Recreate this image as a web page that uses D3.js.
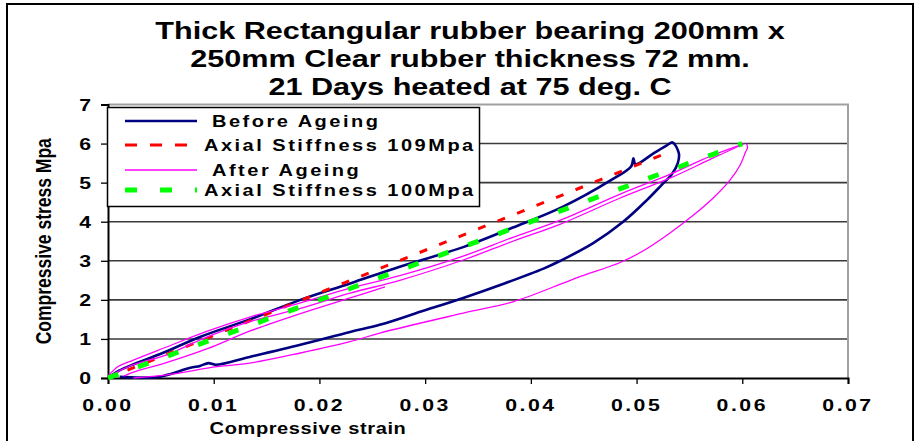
<!DOCTYPE html>
<html>
<head>
<meta charset="utf-8">
<script src="https://cdn.jsdelivr.net/npm/d3@7"></script>
<style>
  body { margin: 0; background: #fff; }
  text { font-family: "Liberation Sans", Arial, sans-serif; font-weight: bold; fill: #000; }
</style>
</head>
<body>
<div id="chart"></div>
<script>
// chart text
var titleLines = ["Thick Rectangular rubber bearing 200mm x",
                  "250mm Clear rubber thickness 72 mm.",
                  "21 Days heated at 75 deg. C"];
var xTicks = [0, 0.01, 0.02, 0.03, 0.04, 0.05, 0.06, 0.07];
var yTicks = [0, 1, 2, 3, 4, 5, 6, 7];
var seriesNames = ["Before Ageing", "Axial Stiffness 109Mpa", "After Ageing", "Axial Stiffness 100Mpa"];

// before ageing: loading then unloading loop
var beforeStrain = [0, 0.001, 0.0025, 0.005, 0.0087, 0.0134, 0.0182, 0.0229, 0.0276, 0.0336, 0.0383, 0.043, 0.0475,
                    0.0495, 0.0497, 0.0499, 0.0516, 0.0529, 0.0534, 0.054, 0.0539, 0.0533, 0.0524, 0.051, 0.0487,
                    0.0459, 0.0428, 0.0412, 0.0375, 0.0336, 0.0296, 0.0257, 0.0229, 0.0182, 0.0134, 0.0102, 0.0095,
                    0.0087, 0.0078, 0.0056, 0.0046, 0.003, 0.0011];
var beforeStress = [0, 0.18, 0.36, 0.62, 1.05, 1.5, 2.0, 2.42, 2.85, 3.35, 3.85, 4.38, 5.05,
                    5.42, 5.62, 5.47, 5.75, 5.96, 6.03, 5.75, 5.5, 5.2, 4.95, 4.56, 3.99,
                    3.45, 3.0, 2.8, 2.42, 2.05, 1.7, 1.36, 1.18, 0.85, 0.54, 0.34, 0.38,
                    0.31, 0.26, 0.08, 0.02, 0.01, 0.03];

// after ageing: two loading traces, one short trace, one unloading trace
var afterLoadAStrain = [0, 0.001, 0.0024, 0.0056, 0.0094, 0.0134, 0.0182, 0.0229, 0.0276, 0.0336, 0.0383, 0.0428, 0.0484, 0.0532, 0.057, 0.0602];
var afterLoadAStress = [0.05, 0.3, 0.46, 0.8, 1.2, 1.56, 1.92, 2.3, 2.62, 3.12, 3.6, 4.04, 4.7, 5.22, 5.68, 6.0];
var afterLoadBStrain = [0.0005, 0.002, 0.0056, 0.0094, 0.0134, 0.0182, 0.0229, 0.0276, 0.0336, 0.0383, 0.0428, 0.0484, 0.0532, 0.057, 0.0598];
var afterLoadBStress = [0.1, 0.3, 0.6, 1.05, 1.44, 1.78, 2.17, 2.5, 3.02, 3.5, 3.94, 4.6, 5.12, 5.6, 5.95];
var afterShortStrain = [0.0015, 0.0024, 0.0056, 0.0094, 0.0134, 0.0182, 0.0229, 0.0262];
var afterShortStress = [0.05, 0.15, 0.4, 0.75, 1.2, 1.65, 2.05, 2.33];
var afterUnloadStrain = [0.0604, 0.0605, 0.0603, 0.0598, 0.0588, 0.0573, 0.0553, 0.053, 0.0506, 0.0484, 0.0447, 0.0428,
                         0.0383, 0.0336, 0.0257, 0.0229, 0.0182, 0.0134, 0.0103, 0.0056, 0.0024];
var afterUnloadStress = [6.0, 5.9, 5.78, 5.45, 5.05, 4.62, 4.15, 3.68, 3.25, 2.95, 2.6, 2.4,
                         1.95, 1.66, 1.15, 0.93, 0.64, 0.38, 0.29, 0.08, 0];

// stiffness fits
var stiff109Strain = [0, 0.0525];
var stiff109Stress = [0, 5.72];
var stiff100Strain = [0, 0.06];
var stiff100Stress = [0, 6.0];

var W = 921, H = 441;
var margin = {left: 108, right: 73, top: 104.5, bottom: 63};
var SX = 1.25; // the source picture is stretched horizontally

var svg = d3.select("#chart").append("svg")
    .attr("width", W)
    .attr("height", H);

svg.append("rect")
    .attr("x", 7).attr("y", 4)
    .attr("width", 906).attr("height", 460)
    .attr("fill", "#fff")
    .attr("stroke", "#000")
    .attr("stroke-width", 2);

var x = d3.scaleLinear().domain([0, 0.07]).range([margin.left, W - margin.right]);
var y = d3.scaleLinear().domain([0, 7]).range([H - margin.bottom, margin.top]);

function stretched(g, px, py, str, size, anchor, spacing, rot) {
    return g.append("text")
        .attr("transform", "translate(" + px + "," + py + ") scale(" + SX + ",1)" + (rot ? " rotate(" + rot + ")" : ""))
        .attr("text-anchor", anchor || "middle")
        .style("font-size", size + "px")
        .style("letter-spacing", (spacing || 0) + "px")
        .text(str);
}

// title
titleLines.forEach(function (t, i) {
    stretched(svg, 470, 39 + i * 28, t, 24.5, "middle", 0);
});

// grid
svg.append("g").selectAll("line")
    .data(yTicks.filter(function (d) { return d > 0 && d < 7; }))
    .enter().append("line")
    .attr("x1", x(0)).attr("x2", x(0.07))
    .attr("y1", function (d) { return y(d); })
    .attr("y2", function (d) { return y(d); })
    .attr("stroke", "#3a3a3a")
    .attr("stroke-width", 1.6);

// plot frame top / right
svg.append("path")
    .attr("d", "M" + x(0) + "," + y(7) + "H" + x(0.07) + "V" + y(0))
    .attr("fill", "none")
    .attr("stroke", "#a0a0a0")
    .attr("stroke-width", 2);

// axes
var xAxis = svg.append("g")
    .attr("transform", "translate(0," + y(0) + ")")
    .call(d3.axisBottom(x).tickValues(xTicks).tickSize(6).tickFormat(""));
var yAxis = svg.append("g")
    .attr("transform", "translate(" + x(0) + ",0)")
    .call(d3.axisLeft(y).tickValues(yTicks).tickSize(7).tickFormat(""));
[xAxis, yAxis].forEach(function (a) {
    a.select(".domain").attr("stroke", "#000").attr("stroke-width", 2);
    a.selectAll(".tick line").attr("stroke", "#000").attr("stroke-width", 1.3);
});

var fmt = d3.format(".2f");
xTicks.forEach(function (d) {
    stretched(svg, x(d), y(0) + 33, fmt(d), 17, "middle", 2);
});
yTicks.forEach(function (d) {
    stretched(svg, 91, y(d) + 6, d, 17, "end", 0);
});

// axis titles
stretched(svg, 308, 434, "Compressive strain", 16, "middle", 0.5);
stretched(svg, 51, y(3.5), "Compressive stress Mpa", 17.5, "middle", 0, -90);

// series
function pts(xs, ys) { return xs.map(function (d, i) { return [d, ys[i]]; }); }
var line = d3.line()
    .x(function (d) { return x(d[0]); })
    .y(function (d) { return y(d[1]); });
var smooth = d3.line()
    .x(function (d) { return x(d[0]); })
    .y(function (d) { return y(d[1]); })
    .curve(d3.curveCatmullRom.alpha(0.5));

var plot = svg.append("g");
function drawSeries(data, gen, color, width, dash) {
    plot.append("path")
        .datum(data)
        .attr("d", gen)
        .attr("fill", "none")
        .attr("stroke", color)
        .attr("stroke-width", width)
        .attr("stroke-linejoin", "round")
        .attr("stroke-dasharray", dash || null);
}

drawSeries(pts(beforeStrain, beforeStress), smooth, "#000080", 2.6);
drawSeries(pts(stiff109Strain, stiff109Stress), line, "#ff0000", 3, "8,13");
drawSeries(pts(afterLoadAStrain, afterLoadAStress), smooth, "#ff00ff", 1.3);
drawSeries(pts(afterLoadBStrain, afterLoadBStress), smooth, "#ff00ff", 1.3);
drawSeries(pts(afterShortStrain, afterShortStress), smooth, "#ff00ff", 1.3);
drawSeries(pts(afterUnloadStrain, afterUnloadStress), smooth, "#ff00ff", 1.3);
drawSeries(pts(stiff100Strain, stiff100Stress), line, "#00ff00", 5, "11,21");

// legend
var legend = svg.append("g");
legend.append("rect")
    .attr("x", 107.5).attr("y", 107.5)
    .attr("width", 372).attr("height", 99)
    .attr("fill", "#fff")
    .attr("stroke", "#000")
    .attr("stroke-width", 1.5);

var legColors = ["#000080", "#ff0000", "#ff00ff", "#00ff00"];
var legWidths = [2.6, 3, 1.3, 5];
var legDash = [null, "12,13", null, "12,23"];
var legY = [121, 145, 170, 190];
var legTextX = [212, 204, 212, 204];
seriesNames.forEach(function (name, i) {
    legend.append("line")
        .attr("x1", 125).attr("x2", 197)
        .attr("y1", legY[i]).attr("y2", legY[i])
        .attr("stroke", legColors[i])
        .attr("stroke-width", legWidths[i])
        .attr("stroke-dasharray", legDash[i]);
    stretched(legend, legTextX[i], legY[i] + 6, name, 16, "start", 2);
});
</script>
</body>
</html>
